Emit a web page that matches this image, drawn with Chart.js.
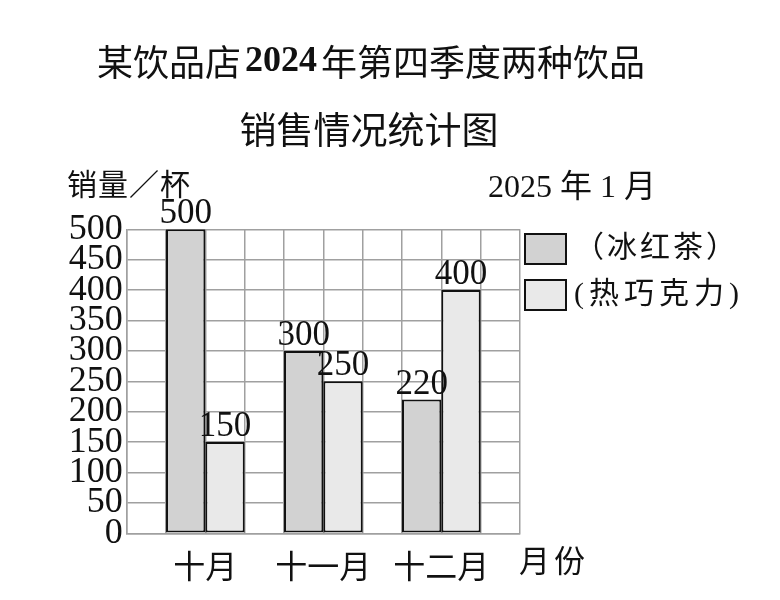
<!DOCTYPE html>
<html><head><meta charset="utf-8">
<script src="https://cdn.jsdelivr.net/npm/chart.js@4"></script>
<style>html,body{margin:0;padding:0;background:#fff;}#wrap{width:780px;height:600px;}</style>
</head><body><div id="wrap"><canvas id="c" width="780" height="600"></canvas></div>
<script>
const months = ['十月', '十一月', '十二月'];
const iceTea = [500, 300, 220];
const hotChocolate = [150, 250, 400];
const seriesNames = ['（冰红茶）', '(热巧克力)'];
const seriesColors = ['#d2d2d2', '#e9e9e9'];
const yTicks = [0, 50, 100, 150, 200, 250, 300, 350, 400, 450, 500];
const titleLine1 = [['某饮品店', false], ['2024', true], ['年第四季度两种饮品', false]];
const titleLine2 = '销售情况统计图';
const yAxisTitle = '销量／杯';
const xAxisTitle = '月份';
const dateNote = '2025 年 1 月';

const CJK = '"Noto Sans CJK SC"';
const SERIF = '"Liberation Serif", "Noto Sans CJK SC"';
const center = i => 2 + 3 * i;

const extras = {
  id: 'extras',
  afterDraw(chart) {
    const ctx = chart.ctx;
    ctx.save();
    ctx.fillStyle = '#111';
    // title line 1
    ctx.textBaseline = 'middle';
    ctx.textAlign = 'left';
    const fnt = b => b ? 'bold 36px "Liberation Serif"' : '36px ' + CJK;
    let total = 0;
    titleLine1.forEach(([t, b]) => { ctx.font = fnt(b); total += ctx.measureText(t).width + (b ? 8 : 0); });
    let x = 371 - total / 2;
    titleLine1.forEach(([t, b]) => {
      ctx.font = fnt(b);
      if (b) x += 4;
      ctx.fillText(t, x, 62);
      x += ctx.measureText(t).width + (b ? 4 : 0);
    });
    ctx.font = '37px ' + CJK;
    ctx.textAlign = 'center';
    ctx.fillText(titleLine2, 369, 130);
    // axis titles
    ctx.font = '30px ' + CJK;
    ctx.textAlign = 'left';
    ctx.letterSpacing = '1px';
    ctx.fillText(yAxisTitle, 67, 184);
    ctx.font = '32px ' + SERIF;
    ctx.letterSpacing = '0px';
    ctx.fillText(dateNote, 488, 189);
    ctx.font = '31px ' + CJK;
    ctx.letterSpacing = '4px';
    ctx.textAlign = 'center';
    ctx.fillText(xAxisTitle, 554, 560);
    // legend
    chart.data.datasets.forEach((ds, i) => {
      const y0 = 234 + i * 46;
      ctx.fillStyle = ds.backgroundColor;
      ctx.fillRect(525, y0, 41, 30);
      ctx.strokeStyle = '#111';
      ctx.lineWidth = 2;
      ctx.strokeRect(525, y0, 41, 30);
      ctx.fillStyle = '#111';
      ctx.font = '30px ' + SERIF;
      ctx.letterSpacing = i === 0 ? '3px' : '5px';
      ctx.textAlign = 'left';
      ctx.fillText(ds.label, 574, y0 + 15);
    });
    // value labels
    ctx.letterSpacing = '0px';
    ctx.font = '35px "Liberation Serif"';
    ctx.textAlign = 'center';
    ctx.textBaseline = 'alphabetic';
    chart.data.datasets.forEach((ds, di) => {
      chart.getDatasetMeta(di).data.forEach((el, j) => {
        ctx.fillText(String(ds.data[j].y), el.x, el.y - 6);
      });
    });
    ctx.restore();
  }
};

new Chart(document.getElementById('c'), {
  type: 'bar',
  data: {
    datasets: [iceTea, hotChocolate].map((vals, k) => ({
      label: seriesNames[k],
      data: vals.map((v, i) => ({ x: center(i), y: v })),
      backgroundColor: seriesColors[k],
      borderColor: '#111',
      borderWidth: 2,
      borderSkipped: false,
      categoryPercentage: 2,
      barPercentage: 1
    }))
  },
  options: {
    responsive: false,
    animation: false,
    devicePixelRatio: 1,
    layout: { padding: { left: 66.7, top: 229.3, right: 260, bottom: 6.7 } },
    plugins: { legend: { display: false }, title: { display: false }, tooltip: { enabled: false } },
    scales: {
      x: {
        type: 'linear', min: 0, max: 10, offset: false,
        grid: { color: '#a0a0a0', lineWidth: 1.5, drawTicks: false, offset: false },
        border: { color: '#a0a0a0', width: 1.5 },
        afterFit: s => { s.height = 60; },
        ticks: {
          stepSize: 1, autoSkip: false, maxRotation: 0, padding: 13,
          color: '#111', font: { family: CJK, size: 32 },
          callback: v => { const i = months.findIndex((m, k) => center(k) === v); return i >= 0 ? months[i] : ''; }
        }
      },
      y: {
        min: 0, max: 500,
        grid: { color: '#a0a0a0', lineWidth: 1.5, drawTicks: false },
        border: { color: '#a0a0a0', width: 1.5 },
        afterFit: s => { s.width = 60; },
        afterBuildTicks: s => { s.ticks = yTicks.map(v => ({ value: v })); },
        ticks: { autoSkip: false, padding: 4, color: '#111', font: { family: '"Liberation Serif"', size: 36 } }
      }
    }
  },
  plugins: [extras]
});
</script></body></html>
